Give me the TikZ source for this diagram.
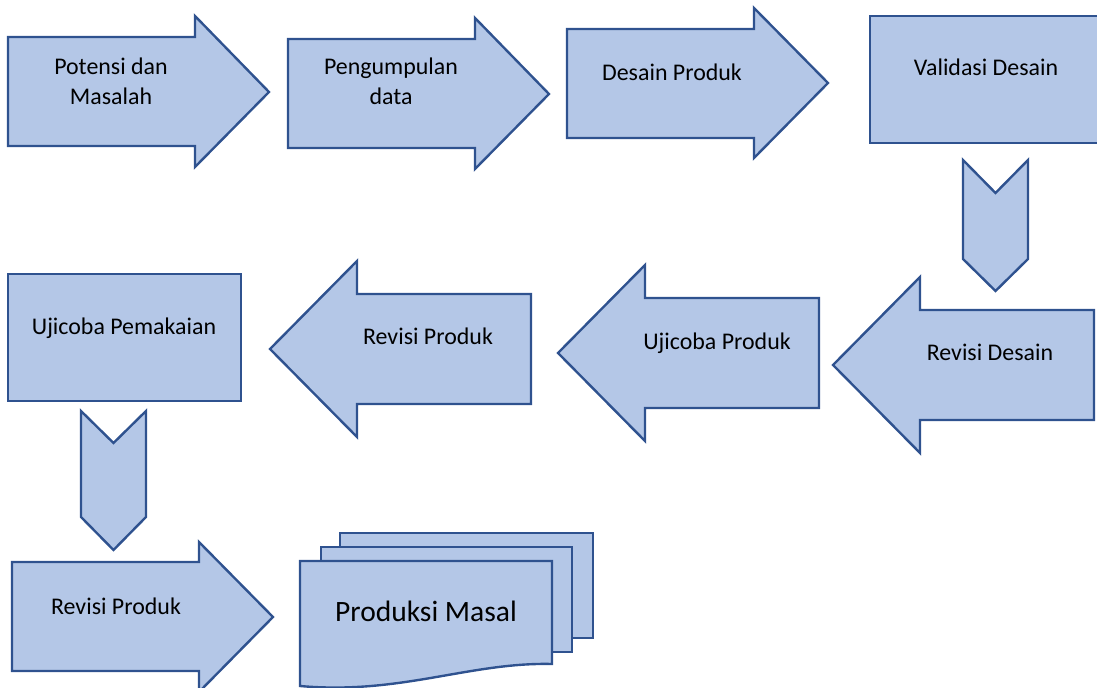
\documentclass[tikz,border=0pt]{standalone}
\usepackage{fontspec}
\setmainfont{Carlito}
\definecolor{isibiru}{HTML}{B4C7E7}
\definecolor{garisbiru}{HTML}{2F528F}
\tikzset{
    bentuk/.style={draw=garisbiru, fill=isibiru, line width=1.7pt, line join=miter},
    label/.style={font=\fontsize{17}{21.5}\selectfont, align=center, anchor=base, inner sep=0pt},
    labelbesar/.style={font=\fontsize{21}{25}\selectfont, anchor=base, inner sep=0pt},
}
\begin{document}
\begin{tikzpicture}[x=0.025cm, y=-0.025cm]
\useasboundingbox (0,0) rectangle (1097,688);
% 1: Potensi dan Masalah
\begin{scope}[shift={(8,37)}]
\draw[bentuk] (0,0) -- (187,0) -- (187,-21) -- (261,55) -- (187,130) -- (187,109) -- (0,109) -- cycle;
\node[label] (potensi) at (103,68) {Potensi dan\\Masalah};
\end{scope}
% 2: Pengumpulan data
\begin{scope}[shift={(288,39)}]
\draw[bentuk] (0,0) -- (187,0) -- (187,-21) -- (261,55) -- (187,130) -- (187,109) -- (0,109) -- cycle;
\node[label] (pengumpulan) at (103,66) {Pengumpulan\\data};
\end{scope}
% 3: Desain Produk
\begin{scope}[shift={(567,29)}]
\draw[bentuk] (0,0) -- (187,0) -- (187,-21) -- (261,54) -- (187,129) -- (187,109) -- (0,109) -- cycle;
\node[label] (desain) at (105,52) {Desain Produk};
\end{scope}
% 4: Validasi Desain
\draw[bentuk] (870,16) rectangle (1103,143);
\node[label] (validasi) at (986,76) {Validasi Desain};
% turun ke Revisi Desain
\begin{scope}[shift={(963,160)}]
\draw[bentuk] (0,0) -- (32.5,33) -- (65,0) -- (65,99) -- (32.5,131) -- (0,99) -- cycle;
\end{scope}
% 5: Revisi Desain
\begin{scope}[shift={(833,365)}]
\draw[bentuk] (0,0) -- (87,-88) -- (87,-55) -- (261,-55) -- (261,55) -- (87,55) -- (87,88) -- cycle;
\node[label] (revdesain) at (157,-4) {Revisi Desain};
\end{scope}
% 6: Ujicoba Produk
\begin{scope}[shift={(558,353)}]
\draw[bentuk] (0,0) -- (87,-88) -- (87,-55) -- (261,-55) -- (261,55) -- (87,55) -- (87,88) -- cycle;
\node[label] (ujiproduk) at (159,-3) {Ujicoba Produk};
\end{scope}
% 7: Revisi Produk
\begin{scope}[shift={(270,349)}]
\draw[bentuk] (0,0) -- (87,-88) -- (87,-55) -- (261,-55) -- (261,55) -- (87,55) -- (87,88) -- cycle;
\node[label] (revproduk) at (158,-4) {Revisi Produk};
\end{scope}
% 8: Ujicoba Pemakaian
\draw[bentuk] (8,274) rectangle (241,401);
\node[label] (ujipakai) at (124,335) {Ujicoba Pemakaian};
% turun ke Revisi Produk
\begin{scope}[shift={(81,411)}]
\draw[bentuk] (0,0) -- (32.5,32) -- (65,0) -- (65,106) -- (32.5,139) -- (0,106) -- cycle;
\end{scope}
% 9: Revisi Produk
\begin{scope}[shift={(12,562)}]
\draw[bentuk] (0,0) -- (187,0) -- (187,-20) -- (261,55) -- (187,130) -- (187,109) -- (0,109) -- cycle;
\node[label] (revproduk2) at (104,52) {Revisi Produk};
\end{scope}
% 10: Produksi Masal (multidokumen)
\draw[bentuk] (340,533) rectangle (593,638);
\draw[bentuk] (321,547) rectangle (572,652);
\draw[bentuk] (300,561) -- (552,561) -- (552,664) .. controls (470,662) and (400,695) .. (300,686) -- cycle;
\node[labelbesar] (produksi) at (426,621) {Produksi Masal};
\end{tikzpicture}
\end{document}
